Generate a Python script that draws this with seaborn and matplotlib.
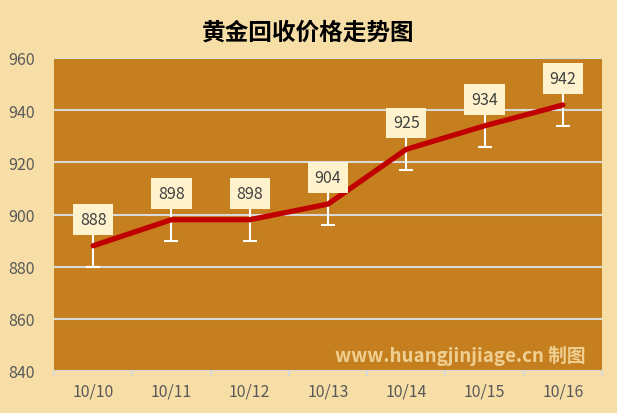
import matplotlib
matplotlib.use("Agg")
import matplotlib.pyplot as plt
import seaborn as sns
import pandas as pd

dates = ["10/10", "10/11", "10/12", "10/13", "10/14", "10/15", "10/16"]
prices = [888, 898, 898, 904, 925, 934, 942]
errors = [8, 8, 8, 8, 8, 8, 8]
y_ticks = [840, 860, 880, 900, 920, 940, 960]

sns.set_theme(style="white")
plt.rcParams['font.family'] = ['Noto Sans CJK SC', 'DejaVu Sans']

df = pd.DataFrame({"date": dates, "price": prices})
bg = "#F7DEA6"
plot_bg = "#C67F1F"

fig = plt.figure(figsize=(6.17, 4.14), dpi=100, facecolor=bg)
ax = fig.add_axes([54/617, 1 - 372/414, (602-54)/617, (372-59)/414])
ax.set_facecolor(plot_bg)

x = list(range(len(dates)))
for yt in y_ticks:
    ax.axhline(yt, color="#D9D9D9", lw=1.5, zorder=1)

ax.errorbar(x, prices, yerr=errors, fmt="none", ecolor="white", elinewidth=1.5,
            capsize=5, capthick=1.5, zorder=2)
sns.lineplot(data=df, x="date", y="price", ax=ax, color="#C00000", lw=3.8,
             sort=False, zorder=3)

for xi, v in zip(x, prices):
    ax.annotate(f"{v}", (xi, v), xytext=(0, 19), textcoords="offset points",
                ha="center", va="center", fontsize=11.5, color="#404040",
                bbox=dict(boxstyle="square,pad=0.42", fc="#FFF2CC", ec="none"),
                zorder=5)

ax.set_xlim(-0.5, len(dates) - 0.5)
ax.set_ylim(840, 960)
ax.set_yticks(y_ticks)
ax.set_xticks(x)
ax.set_xticklabels(dates)
ax.set_xlabel("")
ax.set_ylabel("")
for s in ax.spines.values():
    s.set_visible(False)
ax.tick_params(axis="both", colors="#595959", labelsize=11.5, length=0, pad=8)
ax.tick_params(axis="y", pad=14)
for b in [i - 0.5 for i in range(len(dates) + 1)]:
    ax.plot([b, b], [840, 838.5], color="#D9D9D9", lw=1.5, clip_on=False, zorder=1)

ax.text(0.97, 0.05, "www.huangjinjiage.cn 制图", transform=ax.transAxes,
        ha="right", va="center", fontsize=13.5, fontweight="bold",
        color="#F7DEA6", alpha=0.85, zorder=4)

fig.text(0.5, 1 - 33/414, "黄金回收价格走势图", ha="center", va="center",
         fontsize=17, fontweight="bold", color="black")

fig.savefig("out.png", dpi=100, facecolor=bg)
